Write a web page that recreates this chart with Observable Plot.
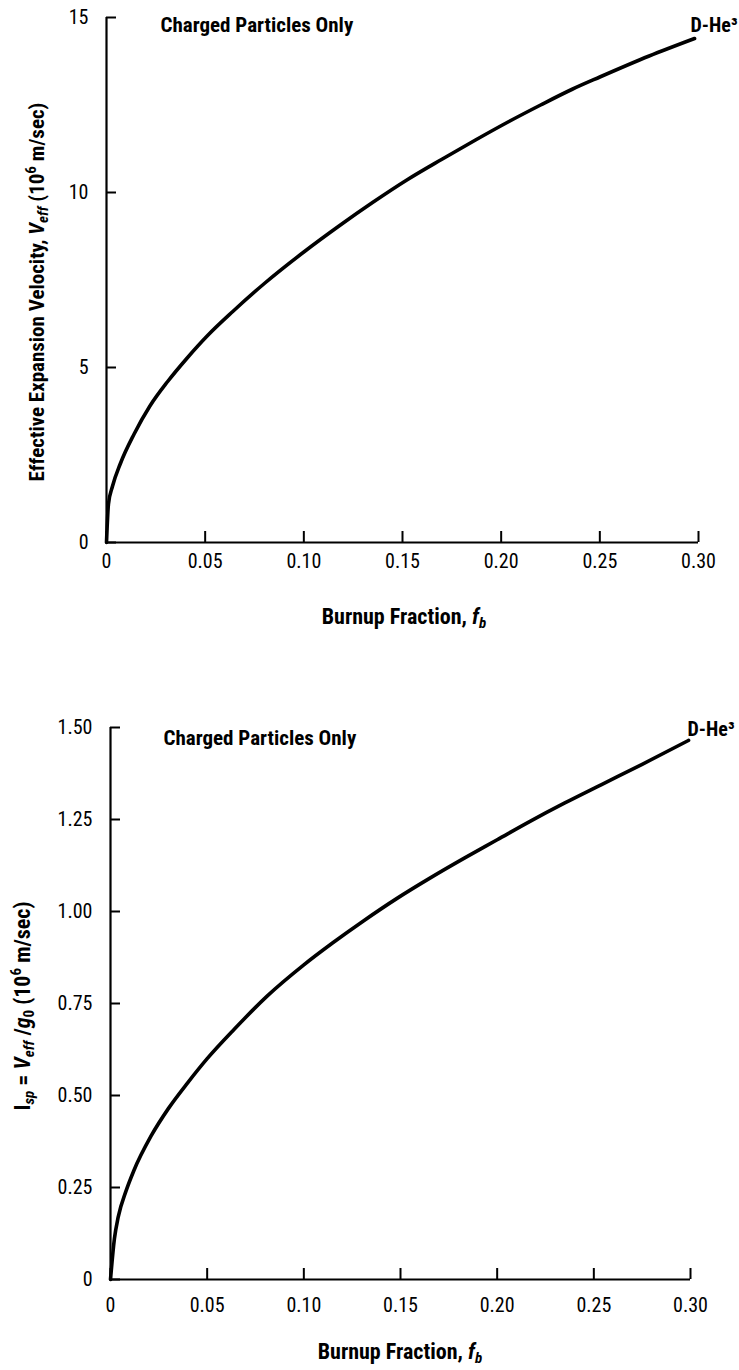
<!DOCTYPE html>
<html><head><meta charset="utf-8">
<script src="https://cdn.jsdelivr.net/npm/d3@7"></script>
<script src="https://cdn.jsdelivr.net/npm/@observablehq/plot@0.6"></script>
<style>
body{margin:0;background:#fff;}
#wrap{position:relative;width:739px;height:1370px;overflow:hidden;background:#fff;}
#top{position:absolute;left:0;top:0;}
#bot{position:absolute;left:0;top:660px;}
</style></head><body><div id="wrap"><div id="top"></div><div id="bot"></div></div>
<script>
// ---- data ----
const burnupTop = [0, 0.001, 0.003, 0.007, 0.014, 0.022, 0.031, 0.041, 0.051, 0.064, 0.080, 0.100, 0.118, 0.135, 0.152, 0.170, 0.187, 0.203, 0.220, 0.236, 0.250, 0.275, 0.298];
const veff      = [0, 1.1, 1.6, 2.25, 3.1, 3.9, 4.6, 5.28, 5.9, 6.6, 7.4, 8.3, 9.05, 9.72, 10.35, 10.95, 11.5, 12.0, 12.5, 12.95, 13.3, 13.9, 14.4];
const burnupBottom = [0, 0.002, 0.004, 0.008, 0.012, 0.021, 0.030, 0.040, 0.050, 0.064, 0.081, 0.100, 0.115, 0.131, 0.148, 0.165, 0.183, 0.200, 0.217, 0.235, 0.254, 0.275, 0.299];
const isp          = [0, 0.11, 0.17, 0.24, 0.295, 0.39, 0.465, 0.535, 0.60, 0.68, 0.77, 0.855, 0.915, 0.975, 1.035, 1.09, 1.145, 1.195, 1.245, 1.295, 1.345, 1.40, 1.465];
const xTicks = [0, 0.05, 0.10, 0.15, 0.20, 0.25, 0.30];
const xTickLabels = ["0", "0.05", "0.10", "0.15", "0.20", "0.25", "0.30"];
const yTicksTop = [0, 5, 10, 15];
const yTickLabelsTop = ["0", "5", "10", "15"];
const yTicksBottom = [0, 0.25, 0.5, 0.75, 1.0, 1.25, 1.5];
const yTickLabelsBottom = ["0", "0.25", "0.50", "0.75", "1.00", "1.25", "1.50"];
const annotation = "Charged Particles Only";
const seriesLabel = "D-He³";
const xTitle = [{t: "Burnup Fraction, "}, {t: "f", i: true}, {t: "b", i: true, sub: true}];
const yTitleTop = [{t: "Effective Expansion Velocity, "}, {t: "V", i: true}, {t: "eff", i: true, sub: true}, {t: " (10"}, {t: "6", sup: true}, {t: " m/sec)"}];
const yTitleBottom = [{t: "I"}, {t: "sp", i: true, sub: true}, {t: " = "}, {t: "V", i: true}, {t: "eff", i: true, sub: true}, {t: " /"}, {t: "g", i: true}, {t: "0", sub: true}, {t: " (10"}, {t: "6", sup: true}, {t: " m/sec)"}];

const FONT = "'Roboto Condensed','Open Sans',sans-serif";

function rich(textSel, parts, size) {
  const small = Math.round(size * 0.7);
  let shift = 0;
  parts.forEach(p => {
    const s = textSel.append("tspan").text(p.t);
    if (p.i) s.attr("font-style", "italic");
    let target = 0;
    if (p.sub) { s.attr("font-size", small); target = Math.round(size * 0.2); }
    if (p.sup) { s.attr("font-size", small); target = -Math.round(size * 0.4); }
    s.attr("dy", target - shift);
    shift = target;
  });
}

function makeChart(o) {
  const data = o.xs.map((x, i) => ({x, y: o.ys[i]}));
  const last = data[data.length - 1];
  const svg = Plot.plot({
    width: 739, height: o.height,
    marginLeft: o.ml, marginRight: o.mr, marginTop: o.mt, marginBottom: o.mb,
    style: {fontFamily: FONT, fontSize: "20px", color: "#000", background: "#fff", overflow: "visible"},
    x: {domain: [0, 0.30]},
    y: {domain: o.yDomain},
    marks: [
      Plot.ruleY([0], {strokeWidth: 2.2}),
      Plot.ruleX([0], {strokeWidth: 2.2}),
      Plot.axisX(xTicks, {tickSize: -11, tickPadding: o.xPad, strokeWidth: 2, label: null,
        tickFormat: d => xTickLabels[xTicks.indexOf(d)], fontSize: 20}),
      Plot.axisY(o.yTicks, {tickSize: -10, tickPadding: 28, strokeWidth: 2, label: null,
        tickFormat: d => o.yLabels[o.yTicks.indexOf(d)], fontSize: 20}),
      Plot.line(data, {x: "x", y: "y", strokeWidth: 3.6, curve: "monotone-x", stroke: "#000"}),
      Plot.text([annotation], {frameAnchor: "top-left", dx: o.annDx, dy: o.annDy, text: d => d,
        textAnchor: "start", lineAnchor: "top", fontWeight: "bold", fontSize: 21}),
      Plot.text([last], {x: "x", y: "y", text: () => seriesLabel, textAnchor: "start", lineAnchor: "bottom",
        dx: o.serDx, dy: o.serDy, fontWeight: "bold", fontSize: 20})
    ]
  });
  const s = d3.select(svg);
  const yt = s.append("text")
    .attr("transform", `translate(${o.yTitleX},${o.yTitleY}) rotate(-90)`)
    .attr("text-anchor", "middle").attr("font-weight", "bold").attr("font-size", o.yTitleSize)
    .attr("fill", "#000");
  rich(yt, o.yTitle, o.yTitleSize);
  const xt = s.append("text")
    .attr("x", o.xTitleX).attr("y", o.xTitleY)
    .attr("text-anchor", "middle").attr("font-weight", "bold").attr("font-size", 22)
    .attr("fill", "#000");
  rich(xt, xTitle, 22);
  return svg;
}

document.getElementById("top").appendChild(makeChart({
  xs: burnupTop, ys: veff, height: 660,
  ml: 106, mr: 41, mt: 17, mb: 118,
  yDomain: [0, 15], yTicks: yTicksTop, yLabels: yTickLabelsTop,
  xPad: 22, annDx: 54, annDy: 0, serDx: -4, serDy: -7,
  yTitle: yTitleTop, yTitleX: 44, yTitleY: 292, yTitleSize: 21,
  xTitleX: 404, xTitleY: 624
}));

document.getElementById("bot").appendChild(makeChart({
  xs: burnupBottom, ys: isp, height: 710,
  ml: 110, mr: 49, mt: 67, mb: 91,
  yDomain: [0, 1.5], yTicks: yTicksBottom, yLabels: yTickLabelsBottom,
  xPad: 29, annDx: 53, annDy: 3, serDx: -1, serDy: -4,
  yTitle: yTitleBottom, yTitleX: 30, yTitleY: 346, yTitleSize: 22,
  xTitleX: 400, xTitleY: 699
}));
</script>
</body></html>
